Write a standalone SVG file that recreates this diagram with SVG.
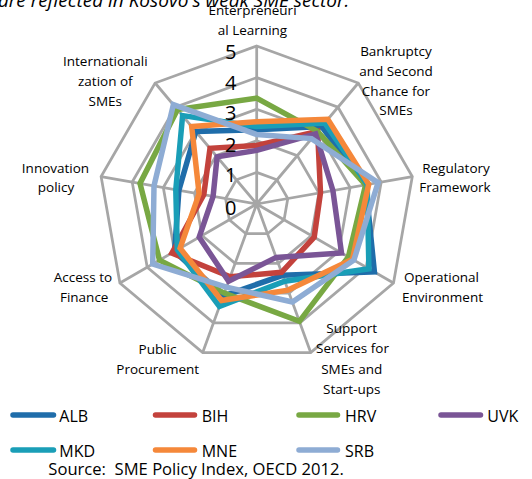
<svg xmlns="http://www.w3.org/2000/svg" width="532" height="479" viewBox="0 0 532 479">
<style>
text{font-family:"Open Sans","Noto Sans","DejaVu Sans",sans-serif;fill:#000}
.ax{font-size:13.5px;text-anchor:middle}
.lv{font-size:20px;text-anchor:end}
.lg{font-size:16px}
.grid{fill:none;stroke:#A6A6A6;stroke-width:2.75}
.s{fill:none;stroke-width:5.5;stroke-linejoin:miter}
.li{stroke-width:5.5;stroke-linecap:round}
.alb{stroke:#1F6DAA}.bih{stroke:#C3423C}.hrv{stroke:#78A843}.uvk{stroke:#7A5596}.mkd{stroke:#1A9EB7}.mne{stroke:#F5883A}.srb{stroke:#8EACD4}
</style>
<rect width="532" height="479" fill="#fff"/>
<text x="-2" y="7" font-size="19" font-style="italic">are reflected in Kosovo's weak SME sector.</text>
<g id="grid" transform="translate(256.7,204)">
<polygon class="grid" points="0,-158 101.6,-121 155.6,-27.4 136.8,79 54,148.5 -54,148.5 -136.8,79 -155.6,-27.4 -101.6,-121"/>
<polygon class="grid" points="0,-126.4 81.3,-96.8 124.5,-21.9 109.5,63.2 43.2,118.8 -43.2,118.8 -109.5,63.2 -124.5,-21.9 -81.3,-96.8"/>
<polygon class="grid" points="0,-94.8 61,-72.6 93.4,-16.5 82.1,47.4 32.4,89.1 -32.4,89.1 -82.1,47.4 -93.4,-16.5 -61,-72.6"/>
<polygon class="grid" points="0,-63.2 40.6,-48.4 62.2,-11 54.7,31.6 21.6,59.4 -21.6,59.4 -54.7,31.6 -62.2,-11 -40.6,-48.4"/>
<polygon class="grid" points="0,-31.6 20.3,-24.2 31.1,-5.5 27.4,15.8 10.8,29.7 -10.8,29.7 -27.4,15.8 -31.1,-5.5 -20.3,-24.2"/>
<path class="grid" d="M0,0V-158M0,0L101.6,-121M0,0L155.6,-27.4M0,0L136.8,79M0,0L54,148.5M0,0L-54,148.5M0,0L-136.8,79M0,0L-155.6,-27.4M0,0L-101.6,-121"/>
</g>
<g id="connectors" transform="translate(256.7,204)">
<polygon id="s-alb" class="s alb" points="0,-74.3 65,-77.5 108.9,-19.2 117.7,67.9 25.9,71.3 -33.5,92 -82.1,47.4 -77.8,-13.7 -60.9,-72.6"/>
<polygon id="s-bih" class="s bih" points="0,-58.5 60.9,-72.6 63.8,-11.3 57.5,33.2 24.9,68.3 -26.5,72.7 -84.8,49 -52.9,-9.3 -46.7,-55.7"/>
<polygon id="s-hrv" class="s hrv" points="0,-105.9 60.9,-72.6 108.9,-19.2 91.7,52.9 42.7,117.3 -32.4,89.1 -97.2,56.1 -116.7,-20.6 -79.2,-94.4"/>
<polygon id="s-uvk" class="s uvk" points="0,-53.7 58.9,-70.2 76.2,-13.5 84.8,49 19.5,53.4 -28.1,77.2 -57.5,33.2 -43.6,-7.7 -39.6,-47.2"/>
<polygon id="s-mkd" class="s mkd" points="0,-77.4 68,-81.1 110.5,-19.5 112.2,64.8 28.1,77.2 -37.3,102.4 -79.4,45.8 -80.9,-14.3 -74.1,-88.4"/>
<polygon id="s-mne" class="s mne" points="0,-82.2 71.1,-84.7 112,-19.8 95.8,55.3 31.3,86.1 -35.1,96.5 -76.6,44.2 -57.6,-10.2 -65,-77.5"/>
<polygon id="s-srb" class="s srb" points="0,-69.5 54.8,-65.4 121.4,-21.4 97.2,56.1 35.7,98 -30.3,83.1 -104,60 -102.7,-18.1 -83.3,-99.3"/>
</g>
<g id="levels">
<text class="lv" x="236.5" y="59">5</text>
<text class="lv" x="236.5" y="89.5">4</text>
<text class="lv" x="236.5" y="120">3</text>
<text class="lv" x="236.5" y="151.5">2</text>
<text class="lv" x="236.5" y="182">1</text>
<text class="lv" x="236.5" y="215">0</text>
</g>
<g id="axis-entrepreneurial"><text class="ax" x="252.5" y="15">Enterpreneuri</text><text class="ax" x="252.5" y="34.5">al Learning</text></g>
<g id="axis-bankruptcy"><text class="ax" x="396" y="56">Bankruptcy</text><text class="ax" x="396" y="75.5">and Second</text><text class="ax" x="396" y="95.5">Chance for</text><text class="ax" x="396" y="115">SMEs</text></g>
<g id="axis-regulatory"><text class="ax" x="456" y="172.7">Regulatory</text><text class="ax" x="455" y="191.7">Framework</text></g>
<g id="axis-operational"><text class="ax" x="441.5" y="282.3">Operational</text><text class="ax" x="442.5" y="301.7">Environment</text></g>
<g id="axis-support"><text class="ax" x="351.7" y="333.3">Support</text><text class="ax" x="352.5" y="353.3">Services for</text><text class="ax" x="351.7" y="374">SMEs and</text><text class="ax" x="351.7" y="394.3">Start-ups</text></g>
<g id="axis-procurement"><text class="ax" x="157.5" y="354.3">Public</text><text class="ax" x="157.7" y="374">Procurement</text></g>
<g id="axis-finance"><text class="ax" x="83" y="281.7">Access to</text><text class="ax" x="84.2" y="301.7">Finance</text></g>
<g id="axis-innovation"><text class="ax" x="55.5" y="172.7">Innovation</text><text class="ax" x="56" y="191.7">policy</text></g>
<g id="axis-internationalization"><text class="ax" x="105.3" y="66">Internationali</text><text class="ax" x="105.3" y="85.5">zation of</text><text class="ax" x="105.3" y="105.5">SMEs</text></g>
<g id="legend">
<g id="lg-alb"><line class="li alb" x1="13" y1="415" x2="53.5" y2="415"/><text class="lg" x="59.3" y="422.3">ALB</text></g>
<g id="lg-bih"><line class="li bih" x1="155.5" y1="415" x2="194.5" y2="415"/><text class="lg" x="201.7" y="422.3">BIH</text></g>
<g id="lg-hrv"><line class="li hrv" x1="299" y1="415" x2="337.5" y2="415"/><text class="lg" x="345" y="422.3">HRV</text></g>
<g id="lg-uvk"><line class="li uvk" x1="441" y1="415" x2="480.5" y2="415"/><text class="lg" x="487.3" y="422.3">UVK</text></g>
<g id="lg-mkd"><line class="li mkd" x1="13" y1="450" x2="53.5" y2="450"/><text class="lg" x="59.3" y="457.3">MKD</text></g>
<g id="lg-mne"><line class="li mne" x1="155.5" y1="450" x2="194.5" y2="450"/><text class="lg" x="201.7" y="457.3">MNE</text></g>
<g id="lg-srb"><line class="li srb" x1="299" y1="450" x2="337.5" y2="450"/><text class="lg" x="345" y="457.3">SRB</text></g>
</g>
<text id="source" x="48.3" y="475" font-size="16.6">Source:&#160; SME Policy Index, OECD 2012.</text>
</svg>
